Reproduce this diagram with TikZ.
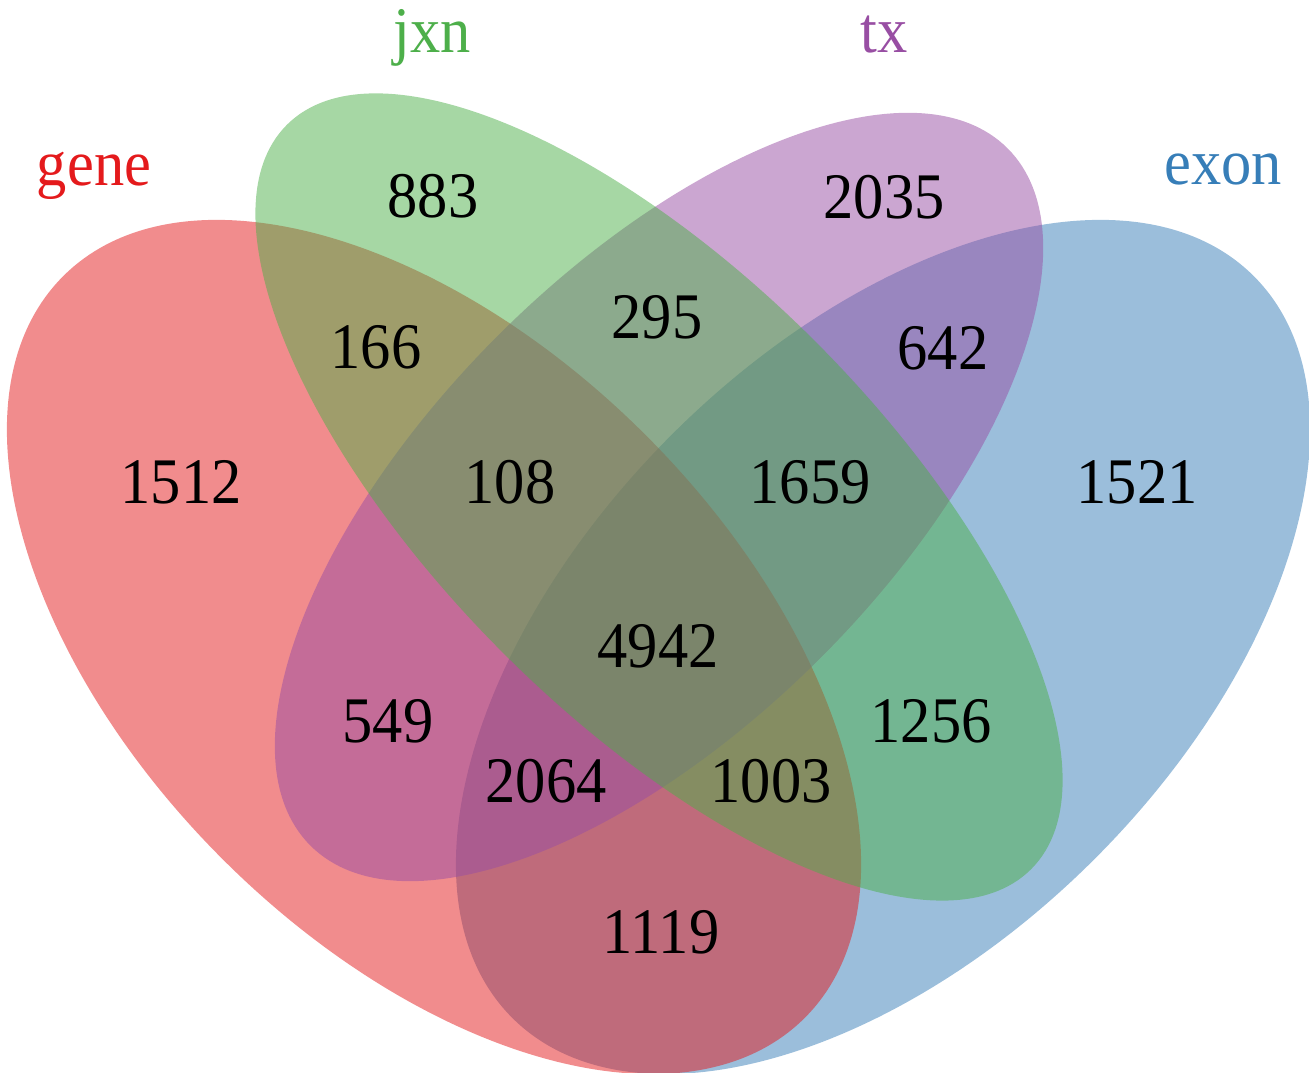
\documentclass[tikz,border=0pt]{standalone}
\usepackage{fontspec}
\setmainfont[FakeStretch=0.93]{Liberation Serif}
\usepackage{tikz}
\usepackage{xcolor}
\definecolor{genecol}{HTML}{E41A1C}
\definecolor{jxncol}{HTML}{4DAF4A}
\definecolor{txcol}{HTML}{984EA3}
\definecolor{exoncol}{HTML}{377EB8}

\begin{document}
\begin{tikzpicture}[every node/.style={anchor=base,inner sep=0pt,font=\fontsize{18.5}{20}\selectfont}]

\useasboundingbox (0,0) rectangle (13.09,10.72);

% the four sets (exon first, jxn last)
\fill[exoncol,fill opacity=0.5,rotate around={45:(8.83,4.25)}] (8.83,4.25) ellipse (5.244 and 2.995);
\fill[genecol,fill opacity=0.5,rotate around={-45:(4.34,4.25)}] (4.34,4.25) ellipse (5.244 and 2.995);
\fill[txcol,fill opacity=0.5,rotate around={45:(6.59,5.75)}] (6.59,5.75) ellipse (4.93 and 2.28);
\fill[jxncol,fill opacity=0.5,rotate around={-45:(6.59,5.75)}] (6.59,5.75) ellipse (5.263 and 2.205);

% set names
\node[text=genecol] (gene) at (0.94,8.86) {gene};
\node[text=jxncol] (jxn) at (4.32,10.19) {jxn};
\node[text=txcol] (tx) at (8.84,10.19) {tx};
\node[text=exoncol] (exon) at (12.23,8.87) {exon};

% counts
\node (j) at (4.33,8.54) {883};
\node (t) at (8.84,8.53) {2035};
\node (gj) at (3.76,7.03) {166};
\node (jt) at (6.57,7.33) {295};
\node (te) at (9.43,7.02) {642};
\node (g) at (1.81,5.68) {1512};
\node (gjt) at (5.10,5.68) {108};
\node (jte) at (8.10,5.68) {1659};
\node (e) at (11.37,5.68) {1521};
\node (gjte) at (6.58,4.04) {4942};
\node (gt) at (3.88,3.29) {549};
\node (je) at (9.31,3.29) {1256};
\node (gte) at (5.46,2.69) {2064};
\node (gje) at (7.71,2.69) {1003};
\node (ge) at (6.61,1.18) {1119};

\end{tikzpicture}
\end{document}
